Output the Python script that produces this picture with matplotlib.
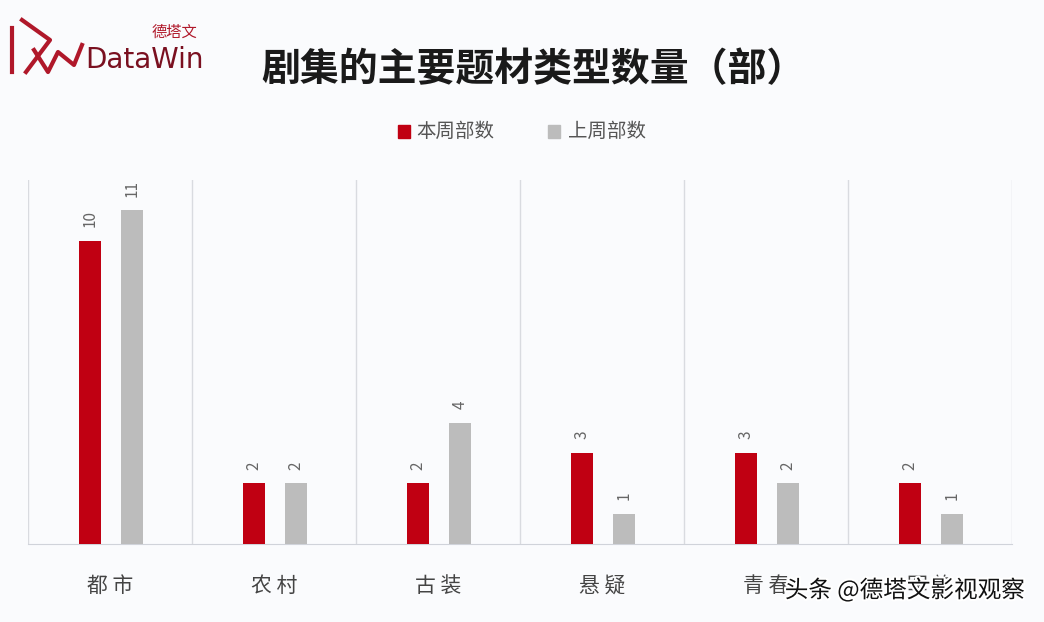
import numpy as np
import matplotlib.pyplot as plt
from matplotlib import patheffects

plt.rcParams['font.family'] = ['Noto Sans CJK SC', 'DejaVu Sans']

# data
categories = ["都市", "农村", "古装", "悬疑", "青春", "军旅"]
this_week = [10, 2, 2, 3, 3, 2]
last_week = [11, 2, 4, 1, 2, 1]
series_names = ["本周部数", "上周部数"]

RED = "#c00012"
GREY = "#bcbcbc"
BG = "#fafbfd"

fig = plt.figure(figsize=(10.44, 6.22), dpi=100, facecolor=BG)
ax = fig.add_axes([28 / 1044, 1 - 544 / 622, 984 / 1044, 364 / 622])
ax.set_facecolor(BG)

x = np.arange(len(categories))
w = 0.135
ax.bar(x - 0.12, this_week, w, color=RED, zorder=3)
ax.bar(x + 0.135, last_week, w, color=GREY, zorder=3)

for i in range(len(categories)):
    ax.text(x[i] - 0.12, this_week[i] + 0.45, str(this_week[i]), rotation=90,
            ha="center", va="bottom", fontsize=11, color="#666666")
    ax.text(x[i] + 0.135, last_week[i] + 0.45, str(last_week[i]), rotation=90,
            ha="center", va="bottom", fontsize=11, color="#666666")

# group separators
for b in np.arange(len(categories) + 1) - 0.5:
    ax.axvline(b, color="#d9dbe0", lw=1, zorder=1)

ax.set_xlim(-0.5, len(categories) - 0.5)
ax.set_ylim(0, 12)
ax.set_yticks([])
ax.set_xticks(x)
ax.set_xticklabels([" ".join(c) for c in categories], fontsize=15,
                   color="#444444")
ax.tick_params(axis="x", length=0, pad=22)
for s in ["top", "left", "right"]:
    ax.spines[s].set_visible(False)
ax.spines["bottom"].set_color("#d0d3da")

# title
fig.text(533 / 1044, 1 - 70 / 622, "剧集的主要题材类型数量（部）", ha="center",
         va="center", fontsize=28, fontweight="bold", color="#1a1a1a")

# legend
fig.patches.append(plt.Rectangle((398 / 1044, 1 - 138 / 622), 12 / 1044,
                                 13 / 622, color=RED, transform=fig.transFigure))
fig.text(416 / 1044, 1 - 131 / 622, series_names[0], va="center",
         fontsize=14, color="#555555")
fig.patches.append(plt.Rectangle((548 / 1044, 1 - 138 / 622), 12 / 1044,
                                 13 / 622, color=GREY, transform=fig.transFigure))
fig.text(568 / 1044, 1 - 131 / 622, series_names[1], va="center",
         fontsize=14, color="#555555")

# logo
logo = fig.add_axes([0, 1 - 80 / 622, 90 / 1044, 70 / 622])
logo.set_xlim(0, 90)
logo.set_ylim(70, 0)
logo.axis("off")
logo.plot([12, 12], [18, 62], color="#b0182a", lw=3)
logo.plot([22, 50, 26], [10, 30, 62], color="#b0182a", lw=3)
logo.plot([34, 48, 58, 74, 82], [40, 62, 42, 55, 35], color="#b0182a", lw=3)
fig.text(85 / 1044, 1 - 60 / 622, "DataWin", fontsize=20, color="#7a1020",
         va="center", family="DejaVu Sans")
fig.text(152 / 1044, 1 - 32 / 622, "德塔文", fontsize=11, color="#b0182a",
         va="center")

# watermark
fig.text(1025 / 1044, 1 - 590 / 622, "头条 @德塔文影视观察", ha="right",
         va="center", fontsize=17, color="#111111",
         path_effects=[patheffects.withStroke(linewidth=3, foreground="white")])

fig.savefig("out.png", dpi=100, facecolor=BG)
